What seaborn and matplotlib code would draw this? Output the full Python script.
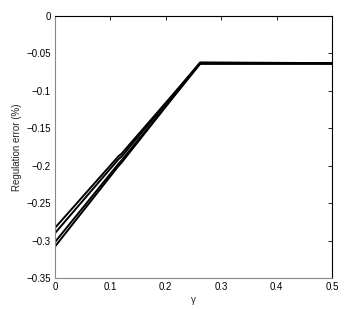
import matplotlib
matplotlib.use("Agg")
import matplotlib.pyplot as plt
import seaborn as sns
import pandas as pd

gamma = [0.0, 0.115, 0.12, 0.262, 0.5]
err_1 = [-0.283, -0.187, -0.184, -0.063, -0.063]
err_2 = [-0.290, -0.191, -0.188, -0.062, -0.063]
err_3 = [-0.302, -0.197, -0.193, -0.064, -0.064]
err_4 = [-0.308, -0.200, -0.196, -0.063, -0.063]

rows = []
for i, s in enumerate([err_1, err_2, err_3, err_4]):
    for g, e in zip(gamma, s):
        rows.append({'gamma': g, 'err': e, 'run': i})
df = pd.DataFrame(rows)

sns.set_theme(style="white")
plt.rcParams['font.family'] = ['Liberation Sans', 'DejaVu Sans']

fig = plt.figure(figsize=(3.53, 3.10), dpi=100)
ax = fig.add_axes([55 / 353, 32 / 310, 277 / 353, 262 / 310])
sns.lineplot(data=df, x='gamma', y='err', units='run', estimator=None,
             color='black', linewidth=1.4, ax=ax, legend=False)

ax.set_xlim(0, 0.5)
ax.set_ylim(-0.35, 0)
ax.set_xticks([0, 0.1, 0.2, 0.3, 0.4, 0.5])
ax.set_xticklabels(['0', '0.1', '0.2', '0.3', '0.4', '0.5'])
ax.set_yticks([-0.35, -0.3, -0.25, -0.2, -0.15, -0.1, -0.05, 0])
ax.set_yticklabels(['\u22120.35', '\u22120.3', '\u22120.25', '\u22120.2',
                    '\u22120.15', '\u22120.1', '\u22120.05', '0'])
ax.tick_params(direction='in', length=3, width=0.6, labelsize=7,
               top=True, right=True, colors='black', pad=3)
ax.set_xlabel('\u03b3', fontsize=7, labelpad=2)
ax.set_ylabel('Regulation error (%)', fontsize=7, labelpad=3)
for side in ['left', 'bottom']:
    ax.spines[side].set_color('#888888')
for side in ['top', 'right']:
    ax.spines[side].set_color('black')
for sp in ax.spines.values():
    sp.set_linewidth(0.8)

fig.savefig('out.png', dpi=100)
